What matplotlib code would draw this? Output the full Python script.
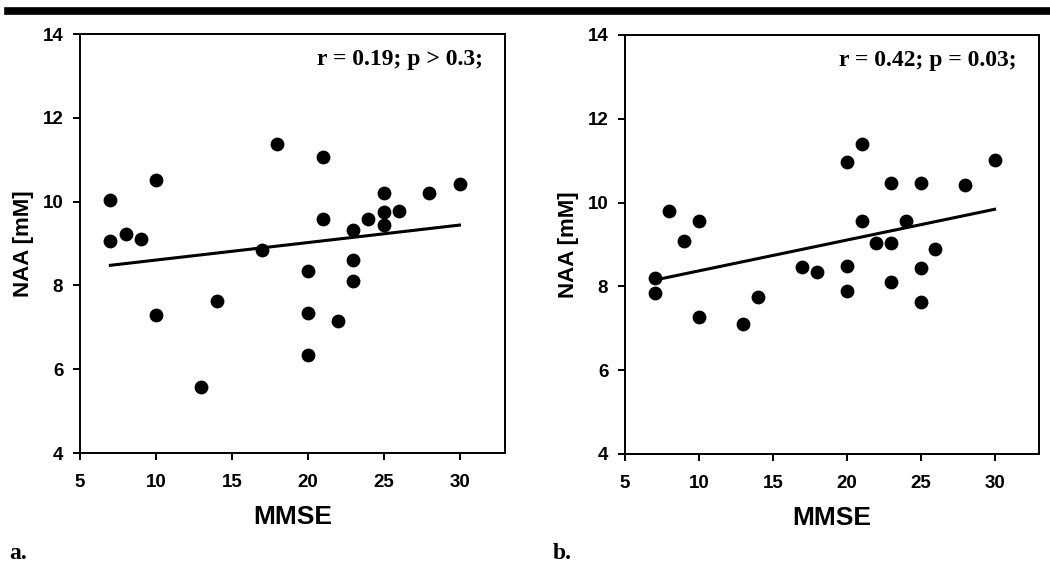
import numpy as np
import matplotlib
matplotlib.use("Agg")
import matplotlib.pyplot as plt
from matplotlib.lines import Line2D

# MMSE vs NAA, panel a
mmse_a = [7, 7, 8, 9, 10, 10, 13, 14, 17, 18, 20, 20, 20, 21, 21, 22, 23, 23, 23, 24, 25, 25, 25, 26, 28, 30]
naa_a = [10.03, 9.07, 9.23, 9.10, 10.52, 7.30, 5.58, 7.62, 8.85, 11.38, 8.34, 7.33, 6.33, 11.06, 9.58, 7.15,
         9.33, 8.60, 8.10, 9.58, 10.20, 9.76, 9.45, 9.78, 10.20, 10.42]
fit_a = [8.48, 9.44]      # regression line at MMSE 7 and 30

# panel b
mmse_b = [7, 7, 8, 9, 10, 10, 13, 14, 17, 18, 20, 20, 20, 21, 21, 22, 23, 23, 23, 24, 25, 25, 25, 26, 28, 30]
naa_b = [8.21, 7.84, 9.80, 9.08, 9.55, 7.26, 7.11, 7.74, 8.46, 8.34, 10.97, 8.49, 7.88, 11.41, 9.55, 9.04,
         10.46, 9.04, 8.10, 9.55, 10.46, 8.44, 7.63, 8.90, 10.43, 11.01]
fit_b = [8.15, 9.84]

fit_x = [7, 30]
stats = ["r = 0.19; p > 0.3;", "r = 0.42; p = 0.03;"]
panel_labels = ["a.", "b."]

sans = "Liberation Sans"
serif = "Liberation Serif"

fig = plt.figure(figsize=(10.5, 5.66), dpi=100)
rects = [[0.0762, 0.1996, 0.4048, 0.7403], [0.5952, 0.1979, 0.3943, 0.7403]]

panels = [(mmse_a, naa_a, fit_a), (mmse_b, naa_b, fit_b)]
for i, (x, y, fit) in enumerate(panels):
    ax = fig.add_axes(rects[i])
    ax.scatter(x, y, s=80, color="black", zorder=3)
    ax.plot(fit_x, fit, color="black", lw=2.2, zorder=2)
    ax.set_xlim(5, 33)
    ax.set_ylim(4, 14)
    ax.set_xticks([5, 10, 15, 20, 25, 30])
    ax.set_yticks([4, 6, 8, 10, 12, 14])
    for sp in ax.spines.values():
        sp.set_linewidth(1.4)
    ax.tick_params(direction="out", length=5, width=1.4, pad=7)
    ax.tick_params(axis="x", pad=10)
    for lab in ax.get_xticklabels() + ax.get_yticklabels():
        lab.set_fontfamily(sans)
        lab.set_fontweight("bold")
        lab.set_fontsize(13.5)
    ax.set_xlabel("MMSE", fontfamily=sans, fontweight="bold", fontsize=19, labelpad=10)
    ax.set_ylabel("NAA [mM]", fontfamily=sans, fontweight="bold", fontsize=16, labelpad=6)
    ax.text(0.947, 0.938, stats[i], transform=ax.transAxes, ha="right", va="center",
            fontfamily=serif, fontweight="bold", fontsize=17)

fig.text(0.009, 0.012, panel_labels[0], fontfamily=serif, fontweight="bold", fontsize=17)
fig.text(0.526, 0.012, panel_labels[1], fontfamily=serif, fontweight="bold", fontsize=17)

# thick rule across the top
fig.add_artist(Line2D([0.008, 1.0], [0.981, 0.981], color="black", lw=5.5, transform=fig.transFigure))

plt.savefig("out.png", dpi=100)
